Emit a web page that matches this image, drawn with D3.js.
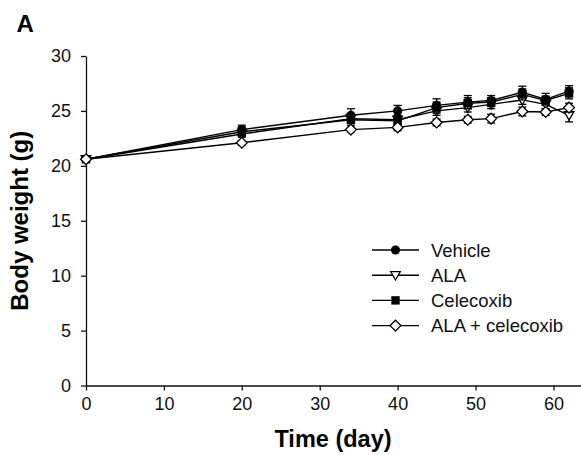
<!DOCTYPE html>
<html>
<head>
<meta charset="utf-8">
<script src="https://cdn.jsdelivr.net/npm/d3@7"></script>
<style>
  body { margin: 0; background: #fff; }
  svg { font-family: "Liberation Sans", Arial, sans-serif; }
</style>
</head>
<body>
<svg width="581" height="455"></svg>
<script>
// Data (mean body weight, g, and error bar half-length)
const days = [0, 20, 34, 40, 45, 49, 52, 56, 59, 62];
const vehicle = [20.6, 23.3, 24.6, 25.0, 25.5, 25.8, 25.95, 26.7, 26.05, 26.8];
const vehicleErr = [0.1, 0.4, 0.6, 0.5, 0.6, 0.6, 0.45, 0.55, 0.55, 0.5];
const ala = [20.6, 22.9, 24.3, 24.2, 25.0, 25.3, 25.6, 26.0, 25.6, 24.6];
const alaErr = [0.1, 0.3, 0.4, 0.4, 0.4, 0.4, 0.4, 0.4, 0.4, 0.6];
const celecoxib = [20.6, 23.1, 24.2, 24.1, 25.3, 25.7, 25.8, 26.5, 25.95, 26.6];
const celecoxibErr = [0.1, 0.4, 0.5, 0.4, 0.5, 0.5, 0.4, 0.5, 0.4, 0.5];
const combo = [20.6, 22.1, 23.3, 23.5, 23.95, 24.2, 24.3, 24.95, 24.9, 25.3];
const comboErr = [0.1, 0.2, 0.2, 0.3, 0.3, 0.3, 0.4, 0.4, 0.3, 0.4];

const xTicks = [0, 10, 20, 30, 40, 50, 60];
const yTicks = [0, 5, 10, 15, 20, 25, 30];

const series = [
  { name: 'Vehicle', values: vehicle, err: vehicleErr, shape: 'circle' },
  { name: 'ALA', values: ala, err: alaErr, shape: 'triangle' },
  { name: 'Celecoxib', values: celecoxib, err: celecoxibErr, shape: 'square' },
  { name: 'ALA + celecoxib', values: combo, err: comboErr, shape: 'diamond' }
];

const svg = d3.select('svg');

const xScale = d3.scaleLinear().domain([0, 63.6]).range([86, 581.5]);
const yScale = d3.scaleLinear().domain([0, 30]).range([385.5, 56]);

// Axes
svg.append('g')
  .attr('transform', `translate(0,${yScale(0)})`)
  .call(d3.axisBottom(xScale).tickValues(xTicks).tickSize(5).tickPadding(6.5).tickSizeOuter(0))
  .call((g) => g.selectAll('text').attr('font-size', 18).attr('fill', '#111'));

svg.append('g')
  .attr('transform', `translate(${xScale(0)},0)`)
  .call(d3.axisLeft(yScale).tickValues(yTicks).tickSize(5).tickPadding(10).tickSizeOuter(0))
  .call((g) => g.selectAll('text').attr('font-size', 18).attr('fill', '#111'));

svg.selectAll('.domain, .tick line').attr('stroke', '#111').attr('stroke-width', 1.3);
svg.selectAll('text').attr('font-family', '"Liberation Sans", Arial, sans-serif');

// Axis titles
svg.append('text')
  .attr('x', 333)
  .attr('y', 447)
  .attr('text-anchor', 'middle')
  .attr('font-size', 23.5)
  .attr('font-weight', 'bold')
  .text('Time (day)');

svg.append('text')
  .attr('transform', `translate(28,${(yScale(0) + yScale(30)) / 2}) rotate(-90)`)
  .attr('text-anchor', 'middle')
  .attr('font-size', 24)
  .attr('font-weight', 'bold')
  .text('Body weight (g)');

svg.append('text')
  .attr('x', 16.5)
  .attr('y', 32)
  .attr('font-size', 24)
  .attr('font-weight', 'bold')
  .text('A');

// Marker drawing
const drawMarker = (sel, shape) => {
  if (shape === 'circle') {
    sel.append('circle').attr('r', 4.6).attr('fill', '#000');
  } else if (shape === 'square') {
    sel.append('rect').attr('x', -4.2).attr('y', -4.2).attr('width', 8.4).attr('height', 8.4).attr('fill', '#000');
  } else if (shape === 'triangle') {
    sel.append('path').attr('d', 'M-4.8,-3.6L4.8,-3.6L0,4.8Z')
      .attr('fill', '#fff').attr('stroke', '#000').attr('stroke-width', 1.3);
  } else {
    sel.append('path').attr('d', 'M0,-5.4L5.4,0L0,5.4L-5.4,0Z')
      .attr('fill', '#fff').attr('stroke', '#000').attr('stroke-width', 1.3);
  }
};

const line = d3.line()
  .x((d) => xScale(d.day))
  .y((d) => yScale(d.value));

series.forEach((s) => {
  const pts = days.map((day, i) => ({ day, value: s.values[i], err: s.err[i] }));
  const g = svg.append('g');

  g.append('path')
    .datum(pts)
    .attr('d', line)
    .attr('fill', 'none')
    .attr('stroke', '#000')
    .attr('stroke-width', 1.4);

  // Error bars
  const eb = g.selectAll('.err')
    .data(pts)
    .enter()
    .append('g')
    .attr('stroke', '#000')
    .attr('stroke-width', 1.3);
  eb.append('line')
    .attr('x1', (d) => xScale(d.day))
    .attr('x2', (d) => xScale(d.day))
    .attr('y1', (d) => yScale(d.value - d.err))
    .attr('y2', (d) => yScale(d.value + d.err));
  [1, -1].forEach((sign) => {
    eb.append('line')
      .attr('x1', (d) => xScale(d.day) - 4)
      .attr('x2', (d) => xScale(d.day) + 4)
      .attr('y1', (d) => yScale(d.value + sign * d.err))
      .attr('y2', (d) => yScale(d.value + sign * d.err));
  });

  g.selectAll('.mk')
    .data(pts)
    .enter()
    .append('g')
    .attr('transform', (d) => `translate(${xScale(d.day)},${yScale(d.value)})`)
    .each(function () { drawMarker(d3.select(this), s.shape); });
});

// Legend
const legend = svg.append('g').attr('transform', 'translate(372,250)');
series.forEach((s, i) => {
  const row = legend.append('g').attr('transform', `translate(0,${i * 25.2})`);
  row.append('line').attr('x1', 0).attr('x2', 47).attr('y1', 0).attr('y2', 0)
    .attr('stroke', '#000').attr('stroke-width', 1.4);
  drawMarker(row.append('g').attr('transform', 'translate(23.5,0)'), s.shape);
  row.append('text')
    .attr('x', 59)
    .attr('y', 0)
    .attr('dy', '0.36em')
    .attr('font-size', 18.5)
    .attr('fill', '#111')
    .text(s.name);
});
</script>
</body>
</html>
